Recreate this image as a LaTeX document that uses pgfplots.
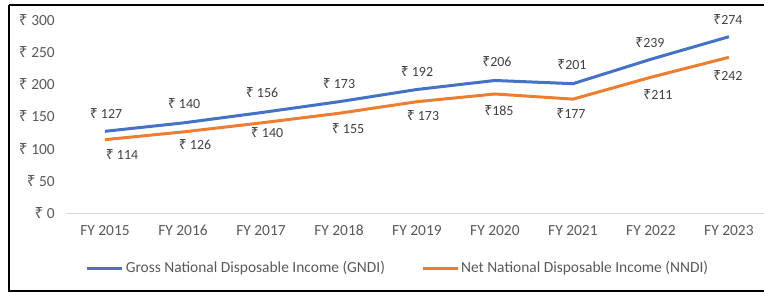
\documentclass[border=0pt]{standalone}
\usepackage{pgfplots}
\pgfplotsset{compat=1.18}
\usepackage{pgfplotstable}
\usepackage{fontspec}
\setmainfont{Carlito}
\newfontfamily\rupfont{Noto Sans}
\newcommand\R{{\rupfont\char"20B9}}
\definecolor{gblue}{HTML}{4472C4}
\definecolor{norange}{HTML}{ED7D31}
\definecolor{txt}{HTML}{595959}
\definecolor{lbl}{HTML}{404040}
\definecolor{gridc}{HTML}{D9D9D9}

\pgfplotstableread{
x y dx dy sp
0 127 1 18 1
1 140 1 19 1
2 156 1 20 1
3 173 0 18 1
4 192 0 17.5 1
5 206 2 18.5 0
6 201 -1 19 0
7 239 -1 17 0
8 274 -1 17 0
}\gndi

\pgfplotstableread{
x y dx dy sp
0 114 17 -15 1
1 126 12 -13 1
2 140 6 -10 1
3 155 9 -15 1
4 173 6 -14 1
5 185 4 -17 0
6 177 -2 -14 0
7 211 7 -17 0
8 242 -1 -18 0
}\nndi

\begin{document}
\begin{tikzpicture}[x=1bp,y=1bp]
\useasboundingbox (0,0) rectangle (764,293);
\draw[black, line width=2bp] (9,288) -- (9,2.5) -- (770,2.5);
\draw[black, line width=2bp] (9,288) -- (770,288);
\begin{axis}[
  at={(66bp,80bp)}, anchor=south west,
  scale only axis, width=698bp, height=193bp,
  xmin=-0.5, xmax=8.45, ymin=0, ymax=300,
  clip=false,
  axis lines*=left,
  y axis line style={draw=none},
  x axis line style={draw=gridc, line width=1bp, -},
  major tick length=0pt,
  xtick={0,...,8},
  xticklabels={FY 2015,FY 2016,FY 2017,FY 2018,FY 2019,FY 2020,FY 2021,FY 2022,FY 2023},
  ytick={0,50,...,300},
  yticklabel={\R\ \pgfmathprintnumber[assume math mode=true]{\tick}},
  xticklabel style={font=\fontsize{15.5}{17}\selectfont, text=txt, inner sep=0pt, anchor=north, yshift=-12bp},
  yticklabel style={font=\fontsize{15.5}{17}\selectfont, text=txt, inner sep=0pt, anchor=east, xshift=-11bp},
  legend columns=2,
  legend style={at={(0.4756,-0.285)}, anchor=center, draw=none, fill=none,
    font=\fontsize{15.5}{17}\selectfont, text=txt,
    /tikz/every even column/.append style={column sep=34bp}},
  legend image code/.code={\draw[#1, line width=3bp] (0bp,0bp) -- (35bp,0bp);},
  visualization depends on={\thisrow{dx}\as\dx},
  visualization depends on={\thisrow{dy}\as\dy},
  visualization depends on={\thisrow{sp}\as\sp},
  nodes near coords={\R\ifdim\sp pt>0.5pt\ \fi\pgfmathprintnumber[assume math mode=true]{\pgfplotspointmeta}},
  every node near coord/.append style={font=\fontsize{14}{16}\selectfont, text=lbl, anchor=center, xshift=\dx bp, yshift=\dy bp, inner sep=0pt},
]
\addplot[gblue, line width=3bp, no markers] table[x=x,y=y] {\gndi};
\addlegendentry{Gross National Disposable Income (GNDI)}
\addplot[norange, line width=3bp, no markers] table[x=x,y=y] {\nndi};
\addlegendentry{Net National Disposable Income (NNDI)}
\end{axis}
\end{tikzpicture}
\end{document}
